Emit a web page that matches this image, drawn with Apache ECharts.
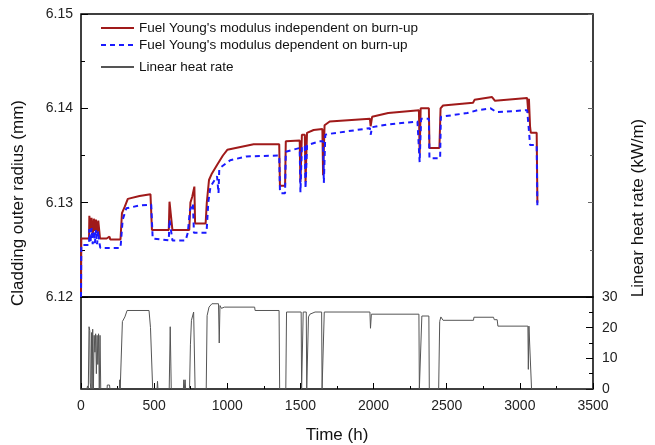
<!DOCTYPE html>
<html>
<head>
<meta charset="utf-8">
<script src="https://cdn.jsdelivr.net/npm/echarts@6/dist/echarts.min.js"></script>
<style>
html,body{margin:0;padding:0;background:#fff;}
#main{width:655px;height:445px;}
</style>
</head>
<body>
<div id="main"></div>
<script>
// time (h) and cladding outer radius (mm), Young's modulus independent on burn-up
var indepT = [0,2,55,57,65,72,80,88,95,102,110,118,125,130,175,180,195,200,270,280,300,320,400,475,485,600,605,625,740,748,760,775,780,852,860,875,895,930,950,970,1000,1090,1180,1190,1355,1360,1395,1400,1495,1500,1510,1530,1535,1545,1590,1650,1655,1665,1700,1975,1980,1990,2100,2310,2315,2322,2378,2382,2450,2458,2475,2680,2690,2810,2830,3050,3058,3062,3070,3075,3115,3120];
var indepR = [6.1200,6.1262,6.1262,6.1286,6.1272,6.1284,6.1265,6.1283,6.1270,6.1282,6.1268,6.1281,6.1270,6.1262,6.1262,6.1264,6.1264,6.1261,6.1261,6.1289,6.1296,6.1304,6.1307,6.1309,6.1271,6.1271,6.1301,6.1271,6.1271,6.1300,6.1306,6.1317,6.1278,6.1278,6.1300,6.1324,6.1331,6.1340,6.1345,6.1350,6.1356,6.1359,6.1362,6.1361,6.1362,6.1318,6.1318,6.1365,6.1366,6.1322,6.1372,6.1372,6.1322,6.1374,6.1377,6.1378,6.1329,6.1382,6.1386,6.1389,6.1381,6.1391,6.1395,6.1398,6.1352,6.1400,6.1400,6.1358,6.1358,6.1400,6.1403,6.1406,6.1409,6.1412,6.1408,6.1411,6.1395,6.1410,6.1380,6.1374,6.1374,6.1300];

// Young's modulus dependent on burn-up
var depT = [0,2,55,57,65,72,80,88,95,102,110,118,125,132,270,285,310,400,480,490,500,600,605,625,715,730,745,765,772,858,870,885,930,940,945,960,1020,1130,1355,1360,1365,1395,1400,1495,1500,1510,1530,1535,1545,1630,1655,1660,1670,1700,1975,1980,1990,2100,2300,2315,2325,2378,2382,2455,2460,2640,2710,2800,2840,3050,3060,3070,3115,3120];
var depR = [6.1200,6.1255,6.1255,6.1272,6.1258,6.1273,6.1256,6.1270,6.1257,6.1271,6.1256,6.1270,6.1258,6.1252,6.1252,6.1282,6.1294,6.1297,6.1298,6.1262,6.1260,6.1260,6.1282,6.1260,6.1260,6.1268,6.1292,6.1299,6.1268,6.1268,6.1300,6.1317,6.1328,6.1310,6.1335,6.1338,6.1345,6.1349,6.1350,6.1313,6.1310,6.1310,6.1354,6.1358,6.1311,6.1360,6.1360,6.1315,6.1361,6.1365,6.1365,6.1321,6.1372,6.1373,6.1379,6.1372,6.1380,6.1383,6.1386,6.1343,6.1389,6.1389,6.1347,6.1347,6.1391,6.1395,6.1398,6.1400,6.1396,6.1398,6.1380,6.1361,6.1361,6.1294];

// linear heat rate (kW/m)
var heatT = [0,40,45,50,55,60,63,68,72,76,80,85,90,95,100,105,110,115,120,125,130,135,178,180,195,198,262,265,268,274,283,290,300,315,465,475,490,520,523,526,603,610,617,700,703,706,712,715,742,748,755,770,775,780,856,862,875,895,940,945,950,960,980,1187,1190,1354,1358,1400,1405,1505,1508,1516,1519,1540,1543,1550,1555,1565,1600,1645,1648,1660,1663,1975,1979,1985,2310,2313,2326,2330,2378,2381,2445,2452,2460,2475,2683,2686,2820,2825,2845,2850,3055,3058,3062,3075,3080,3500];
var heatQ = [0,0,1,0,20.3,19,2,0,18.4,0,19.5,0,17.5,12,18,5,17.5,8,18,0,17.5,0,0,1.3,1.3,0,0,3,0,0,22,22.5,23.5,25.6,25.6,20,0,0,2.5,0,0,20.3,0,0,3,0,3,0,0,14.4,22.4,25.1,25.1,0,0,23.9,26.7,27.8,27.8,15,27.2,26.3,26.7,26.7,25.6,25.6,0,0,25.1,25.1,0,0,25.1,25.1,0,0,23.5,24.4,25.1,25.1,0,0,25.1,25.1,19.8,24.4,24.4,0,0,23.8,23.8,0,0,22,23.5,22.4,22.4,23.4,23.4,22.6,22.6,20.5,20.5,6.4,20.5,20.5,0,0];

function zip(a, b){
    var out = [];
    for (var i = 0; i < a.length; i++) out.push([a[i], b[i]]);
    return out;
}

var font = '"Liberation Sans", Arial, sans-serif';
var chart = echarts.init(document.getElementById('main'));

var option = {
    animation: false,
    textStyle: {fontFamily: font},
    grid: [
        {left: 81, top: 14, width: 512, height: 283, show: true, borderColor: '#000', borderWidth: 1.5, backgroundColor: 'transparent'},
        {left: 81, top: 297, width: 512, height: 94, show: true, borderColor: '#000', borderWidth: 1.5, backgroundColor: 'transparent'}
    ],
    legend: [
        {
            orient: 'vertical', left: 95, top: 16, itemWidth: 33, itemHeight: 10, itemGap: 3,
            itemStyle: {opacity: 0},
            textStyle: {fontSize: 13.5, color: '#111', fontFamily: font},
            data: ["Fuel Young's modulus independent on burn-up", "Fuel Young's modulus dependent on burn-up"]
        },
        {
            orient: 'vertical', left: 95, top: 55, itemWidth: 33, itemHeight: 10,
            itemStyle: {opacity: 0},
            textStyle: {fontSize: 13.5, color: '#111', fontFamily: font},
            data: ['Linear heat rate']
        }
    ],
    xAxis: [
        {
            gridIndex: 0, type: 'value', min: 0, max: 3500, interval: 500,
            axisLine: {show: false, onZero: false}, axisTick: {show: false}, axisLabel: {show: false}, splitLine: {show: false}
        },
        {
            gridIndex: 1, type: 'value', min: 0, max: 3500, interval: 500,
            name: 'Time (h)', nameLocation: 'middle', nameGap: 38,
            nameTextStyle: {fontSize: 17, color: '#111'},
            axisLine: {show: false, onZero: false},
            axisTick: {inside: true, length: 6, lineStyle: {color: '#000'}},
            minorTick: {show: true, splitNumber: 2, length: 3, lineStyle: {color: '#000'}},
            axisLabel: {fontSize: 14, color: '#222', margin: 10, formatter: function(v){ return String(v); }},
            splitLine: {show: false}
        }
    ],
    yAxis: [
        {
            gridIndex: 0, type: 'value', min: 6.12, max: 6.15, interval: 0.01,
            axisLine: {show: false, onZero: false},
            axisTick: {inside: true, length: 7, lineStyle: {color: '#000'}},
            minorTick: {show: true, splitNumber: 2, length: 4, lineStyle: {color: '#000'}},
            axisLabel: {fontSize: 14, color: '#222', margin: 8, formatter: function(v){ return v.toFixed(2); }},
            splitLine: {show: false}
        },
        {
            gridIndex: 0, type: 'value', position: 'right', min: 6.12, max: 6.15, interval: 0.01,
            axisLine: {show: false, onZero: false},
            axisTick: {inside: true, length: 5, lineStyle: {color: '#666'}},
            minorTick: {show: true, splitNumber: 2, length: 3, lineStyle: {color: '#666'}},
            axisLabel: {show: false},
            splitLine: {show: false}
        },
        {
            gridIndex: 1, type: 'value', position: 'right', min: 0, max: 30, interval: 10,
            axisLine: {show: false, onZero: false},
            axisTick: {inside: true, length: 7, lineStyle: {color: '#000'}},
            minorTick: {show: true, splitNumber: 2, length: 4, lineStyle: {color: '#000'}},
            axisLabel: {fontSize: 14, color: '#222', margin: 9},
            splitLine: {show: false}
        }
    ],
    graphic: [
        {type: 'text', x: 18, y: 203, rotation: Math.PI / 2,
         style: {text: 'Cladding outer radius (mm)', font: '17px ' + font, fill: '#111', align: 'center', verticalAlign: 'middle'}},
        {type: 'text', x: 638, y: 208, rotation: Math.PI / 2,
         style: {text: 'Linear heat rate (kW/m)', font: '17px ' + font, fill: '#111', align: 'center', verticalAlign: 'middle'}}
    ],
    series: [
        {
            name: "Fuel Young's modulus independent on burn-up", type: 'line',
            xAxisIndex: 0, yAxisIndex: 0, symbol: 'none',
            lineStyle: {color: '#a01a1a', width: 2},
            itemStyle: {color: '#a01a1a'},
            data: zip(indepT, indepR)
        },
        {
            name: "Fuel Young's modulus dependent on burn-up", type: 'line',
            xAxisIndex: 0, yAxisIndex: 0, symbol: 'none',
            lineStyle: {color: '#1a1aff', width: 2, type: [5, 4]},
            itemStyle: {color: '#1a1aff'},
            data: zip(depT, depR)
        },
        {
            name: 'Linear heat rate', type: 'line',
            xAxisIndex: 1, yAxisIndex: 2, symbol: 'none',
            lineStyle: {color: '#555', width: 1},
            itemStyle: {color: '#555'},
            data: zip(heatT, heatQ)
        }
    ]
};
chart.setOption(option);
</script>
</body>
</html>
